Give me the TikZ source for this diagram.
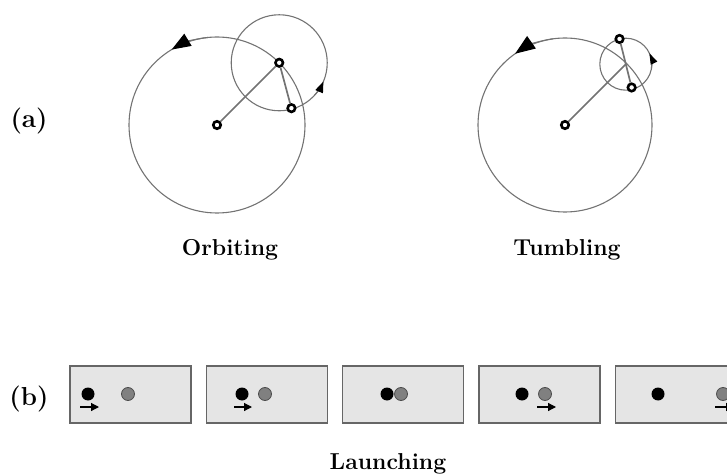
\documentclass[tikz,border=0pt]{standalone}
\usepackage{fontspec}
\usepackage{tikz}
\usetikzlibrary{positioning}
\usetikzlibrary{arrows.meta}

\definecolor{linegray}{gray}{0.45}
\definecolor{panelgray}{gray}{0.9}
\definecolor{ballgray}{gray}{0.5}

\begin{document}
\begin{tikzpicture}[x=1pt,y=1pt,
    orbit/.style={draw=linegray,line width=1.1pt},
    rod/.style={draw=linegray,line width=1.7pt},
    ring/.style={circle,draw=black,fill=white,line width=2.6pt,inner sep=0pt,minimum size=7.5pt},
    title/.style={font=\fontsize{23}{27}\selectfont\bfseries},
    tag/.style={font=\fontsize{26}{30}\selectfont\bfseries},
    panel/.style={draw=black!60,fill=panelgray,line width=1.2pt,inner sep=0pt,minimum width=121pt,minimum height=57pt},
    blackball/.style={circle,fill=black,inner sep=0pt,minimum size=13pt},
    grayball/.style={circle,draw=black!70,fill=ballgray,line width=0.8pt,inner sep=0pt,minimum size=13pt},
    push/.style={-{Triangle[length=8pt,width=8pt]},line width=1.2pt}]
        \useasboundingbox (0,0) rectangle (727,474);
        % (a) orbiting
        \node[tag,anchor=base] (a) at (29,346) {(a)};
        \coordinate (o1) at (217,349);
        \draw[orbit] (o1) circle (88);
        \draw[orbit,-{Triangle[black,length=19pt,width=14pt]}] (o1) ++(96:88) arc (96:121:88);
        \coordinate (p1) at ([shift={(45:88)}]o1);
        \draw[orbit] (p1) circle (48);
        \draw[orbit,-{Triangle[black,length=11pt,width=8pt]}] (p1) ++(-42:48) arc (-42:-23:48);
        \node[ring] (hub1) at (o1) {};
        \node[ring] (mid1) at (p1) {};
        \node[ring] (tip1) at ([shift={(-75:47)}]p1) {};
        \draw[rod] (hub1) -- (mid1);
        \draw[rod] (mid1) -- (tip1);
        \node[title,anchor=base] (orbiting) at (230,218) {Orbiting};
        % (a) tumbling
        \coordinate (o2) at (565,349);
        \draw[orbit] (o2) circle (87);
        \draw[orbit,-{Triangle[black,length=20pt,width=15pt]}] (o2) ++(98:87) arc (98:125:87);
        \coordinate (p2) at ([shift={(45:86)}]o2);
        \draw[orbit] (p2) circle (26);
        \draw[orbit,-{Triangle[black,length=11pt,width=7pt]}] (p2) ++(-10:26) arc (-10:25:26);
        \node[ring] (hub2) at (o2) {};
        \node[ring] (top2) at ([shift={(104:26)}]p2) {};
        \node[ring] (low2) at ([shift={(-76:24)}]p2) {};
        \draw[rod] (hub2) -- (p2);
        \draw[rod] (top2) -- (low2);
        \node[title,anchor=base] (tumbling) at (567,218) {Tumbling};
        % (b) launching
        \node[tag,anchor=base] (b) at (29,69) {(b)};
        \node[panel] (f1) at (130.5,79.5) {};
        \node[panel] (f2) at (266.8,79.5) {};
        \node[panel] (f3) at (403.1,79.5) {};
        \node[panel] (f4) at (539.4,79.5) {};
        \node[panel] (f5) at (675.7,79.5) {};
        \node[blackball] (k1) at (88,80) {};
        \node[grayball] (g1) at (128,80) {};
        \node[blackball] (k2) at (242,80) {};
        \node[grayball] (g2) at (265,80) {};
        \node[blackball] (k3) at (387,80) {};
        \node[grayball] (g3) at (401,80) {};
        \node[blackball] (k4) at (522,80) {};
        \node[grayball] (g4) at (545,80) {};
        \node[blackball] (k5) at (658,80) {};
        \node[grayball] (g5) at (723,80) {};
        \coordinate (s1) at (80,67);  \coordinate (e1) at (99,67);
        \coordinate (s2) at (234,67); \coordinate (e2) at (252,67);
        \coordinate (s4) at (537,67); \coordinate (e4) at (556,67);
        \coordinate (s5) at (715,67); \coordinate (e5) at (734,67);
        \draw[push] (s1) -- (e1);
        \draw[push] (s2) -- (e2);
        \draw[push] (s4) -- (e4);
        \draw[push] (s5) -- (e5);
        \node[title,anchor=base] (launching) at (388,5) {Launching};
    \end{tikzpicture}
\end{document}
